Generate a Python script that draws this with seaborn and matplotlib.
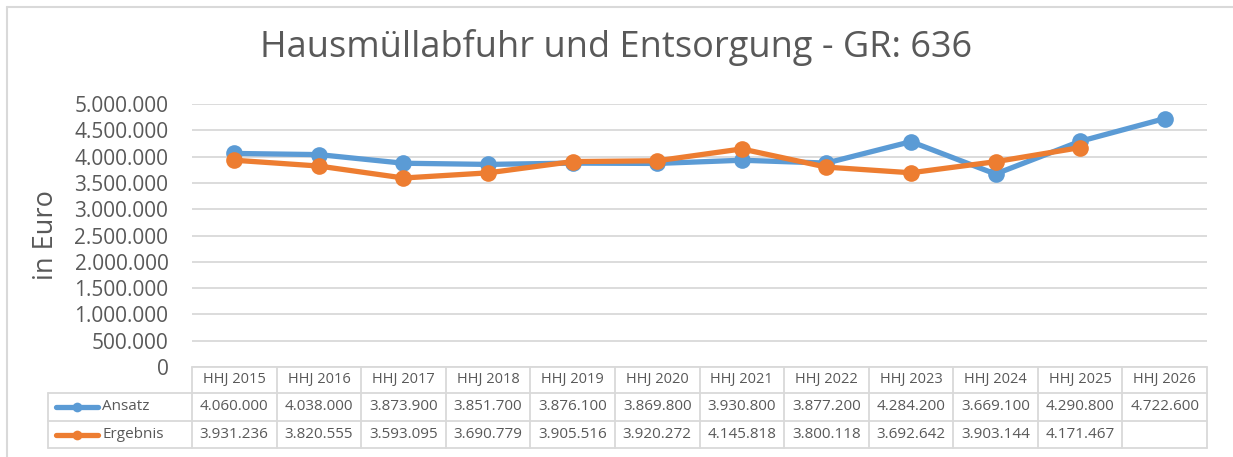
import numpy as np
import pandas as pd
import seaborn as sns
import matplotlib.pyplot as plt
from matplotlib.lines import Line2D

years = ['HHJ 2015', 'HHJ 2016', 'HHJ 2017', 'HHJ 2018', 'HHJ 2019', 'HHJ 2020',
         'HHJ 2021', 'HHJ 2022', 'HHJ 2023', 'HHJ 2024', 'HHJ 2025', 'HHJ 2026']
ansatz = [4060000, 4038000, 3873900, 3851700, 3876100, 3869800,
          3930800, 3877200, 4284200, 3669100, 4290800, 4722600]
ergebnis = [3931236, 3820555, 3593095, 3690779, 3905516, 3920272,
            4145818, 3800118, 3692642, 3903144, 4171467, np.nan]
series_names = ['Ansatz', 'Ergebnis']
colors = ['#5B9BD5', '#ED7D31']

sns.set_theme(style='white')
plt.rcParams['font.family'] = ['Open Sans', 'DejaVu Sans']
txt = '#595959'
grid_c = '#D9D9D9'

W, H = 1233, 457
fig = plt.figure(figsize=(W / 100, H / 100), dpi=100)

def fx(px):
    return px / W

def fy(py):
    return 1 - py / H

x0, x1 = 192, 1207
ytop, y0 = 104, 367
ax = fig.add_axes([fx(x0), fy(y0), fx(x1 - x0), fy(ytop) - fy(y0)])

df = pd.DataFrame({'Jahr': years * 2,
                   'pos': list(range(len(years))) * 2,
                   'Wert': ansatz + ergebnis,
                   'Reihe': ['Ansatz'] * len(years) + ['Ergebnis'] * len(years)})

for name, col in zip(series_names, colors):
    sub = df[df['Reihe'] == name].dropna()
    sns.lineplot(data=sub, x='pos', y='Wert', ax=ax, color=col, linewidth=3.8,
                 marker='o', markersize=12, markeredgewidth=0, sort=False,
                 legend=False)

ax.set_xlim(-0.5, len(years) - 0.5)
ax.set_ylim(0, 5000000)
ax.set_yticks(np.arange(0, 5000001, 500000))
ax.set_yticklabels([f'{v:,.0f}'.replace(',', '.') for v in np.arange(0, 5000001, 500000)],
                   fontsize=15, color=txt)
ax.set_xticks([])
ax.set_xlabel('')
ax.set_ylabel('in Euro', fontsize=19.5, color=txt, labelpad=10)
ax.yaxis.grid(True, color=grid_c, linewidth=1.3)
ax.tick_params(axis='y', length=0, pad=17)
for s in ax.spines.values():
    s.set_visible(False)
ax.set_axisbelow(True)

fig.text(0.5, fy(48), 'Hausmüllabfuhr und Entsorgung - GR: 636',
         ha='center', va='center', fontsize=26, color=txt)

# data table
tl = 48
rows = [367, 393, 421, 448]
tab = fig.add_axes([0, 0, 1, 1])
tab.set_xlim(0, W)
tab.set_ylim(H, 0)
tab.axis('off')
colw = (x1 - x0) / len(years)

tab.plot([x0, x1], [rows[0], rows[0]], color=grid_c, lw=1.3)
for r in rows[1:]:
    tab.plot([tl, x1], [r, r], color=grid_c, lw=1.3)
tab.plot([tl, tl], [rows[1], rows[3]], color=grid_c, lw=1.3)
for i in range(len(years) + 1):
    xv = x0 + i * colw
    tab.plot([xv, xv], [rows[0], rows[3]], color=grid_c, lw=1.3)

for i, yr in enumerate(years):
    xc = x0 + (i + 0.5) * colw
    tab.text(xc, (rows[0] + rows[1]) / 2, yr, ha='center', va='center',
             fontsize=10.5, color=txt)
    for j, vals in enumerate([ansatz, ergebnis]):
        v = vals[i]
        if not np.isnan(v):
            tab.text(xc, (rows[j + 1] + rows[j + 2]) / 2,
                     f'{v:,.0f}'.replace(',', '.'), ha='center', va='center',
                     fontsize=11, color=txt)

for j, (name, col) in enumerate(zip(series_names, colors)):
    yc = (rows[j + 1] + rows[j + 2]) / 2
    tab.plot([56, 98], [yc, yc], color=col, lw=3.8, solid_capstyle='round')
    tab.plot([77], [yc], 'o', color=col, markersize=7, markeredgewidth=0)
    tab.text(102, yc, name, ha='left', va='center', fontsize=11, color=txt)

# chart border
fig.add_artist(Line2D([fx(7), fx(7)], [0, fy(7)], color=grid_c, lw=1.5))
fig.add_artist(Line2D([fx(7), 1], [fy(7), fy(7)], color=grid_c, lw=1.5))

fig.savefig('out.png', dpi=100, facecolor='white')
